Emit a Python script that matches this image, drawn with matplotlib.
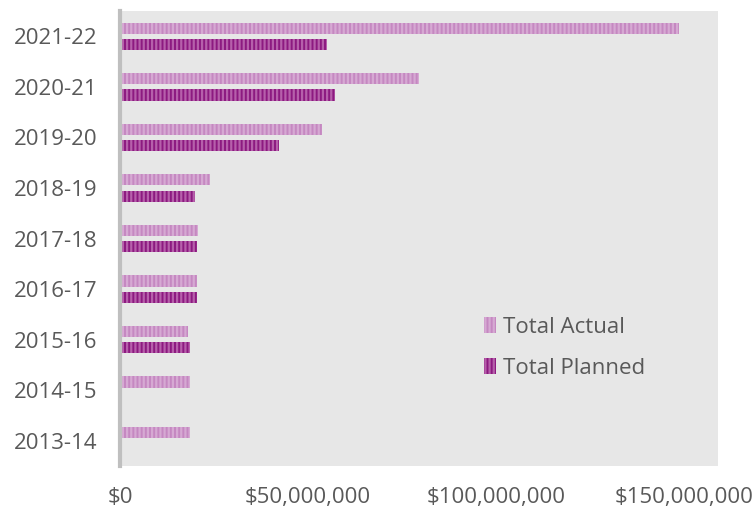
import matplotlib.pyplot as plt
import matplotlib as mpl
import numpy as np
from matplotlib.ticker import FuncFormatter

plt.rcParams['font.family'] = ['Open Sans', 'DejaVu Sans']
mpl.rcParams['hatch.linewidth'] = 1.6

years = ["2021-22", "2020-21", "2019-20", "2018-19", "2017-18",
         "2016-17", "2015-16", "2014-15", "2013-14"]
total_actual = [148.7e6, 79.5e6, 53.7e6, 23.9e6, 20.7e6, 20.5e6, 18.1e6, 18.6e6, 18.6e6]
total_planned = [55.0e6, 57.2e6, 42.3e6, 19.9e6, 20.5e6, 20.5e6, 18.6e6, 0, 0]

ACTUAL_FACE = "#c588c1"
ACTUAL_HATCH = "#d6a9d3"
PLANNED_FACE = "#8c1a80"
PLANNED_HATCH = "#b660ab"
TEXT = "#595959"

fig = plt.figure(figsize=(7.55, 5.07), dpi=100)
ax = fig.add_axes([0.159, 0.081, 0.792, 0.897])
ax.set_facecolor("#e7e7e7")

y = np.arange(len(years))
h = 0.22
ax.barh(y - 0.16, total_actual, height=h, color=ACTUAL_FACE, edgecolor=ACTUAL_HATCH,
        hatch="||||", linewidth=0, label="Total Actual")
ax.barh(y + 0.16, total_planned, height=h, color=PLANNED_FACE, edgecolor=PLANNED_HATCH,
        hatch="||||", linewidth=0, label="Total Planned")

ax.set_ylim(len(years) - 0.5, -0.5)
ax.set_xlim(0, 159e6)
ax.set_yticks(y)
ax.set_yticklabels(years)
ax.set_xticks([0, 50e6, 100e6, 150e6])
ax.xaxis.set_major_formatter(FuncFormatter(lambda v, p: "${:,.0f}".format(v)))

for s in ["top", "right", "bottom"]:
    ax.spines[s].set_visible(False)
ax.spines["left"].set_color("#bfbfbf")
ax.spines["left"].set_linewidth(3)
ax.tick_params(axis="both", length=0, labelsize=16, colors=TEXT)
ax.tick_params(axis="x", pad=15)
ax.tick_params(axis="y", pad=16)

leg = ax.legend(loc="lower left", bbox_to_anchor=(0.575, 0.148), frameon=False,
                fontsize=16, labelcolor=TEXT, handlelength=0.55, handleheight=0.75,
                handletextpad=0.3, labelspacing=0.9)

fig.savefig("out.png", dpi=100)
